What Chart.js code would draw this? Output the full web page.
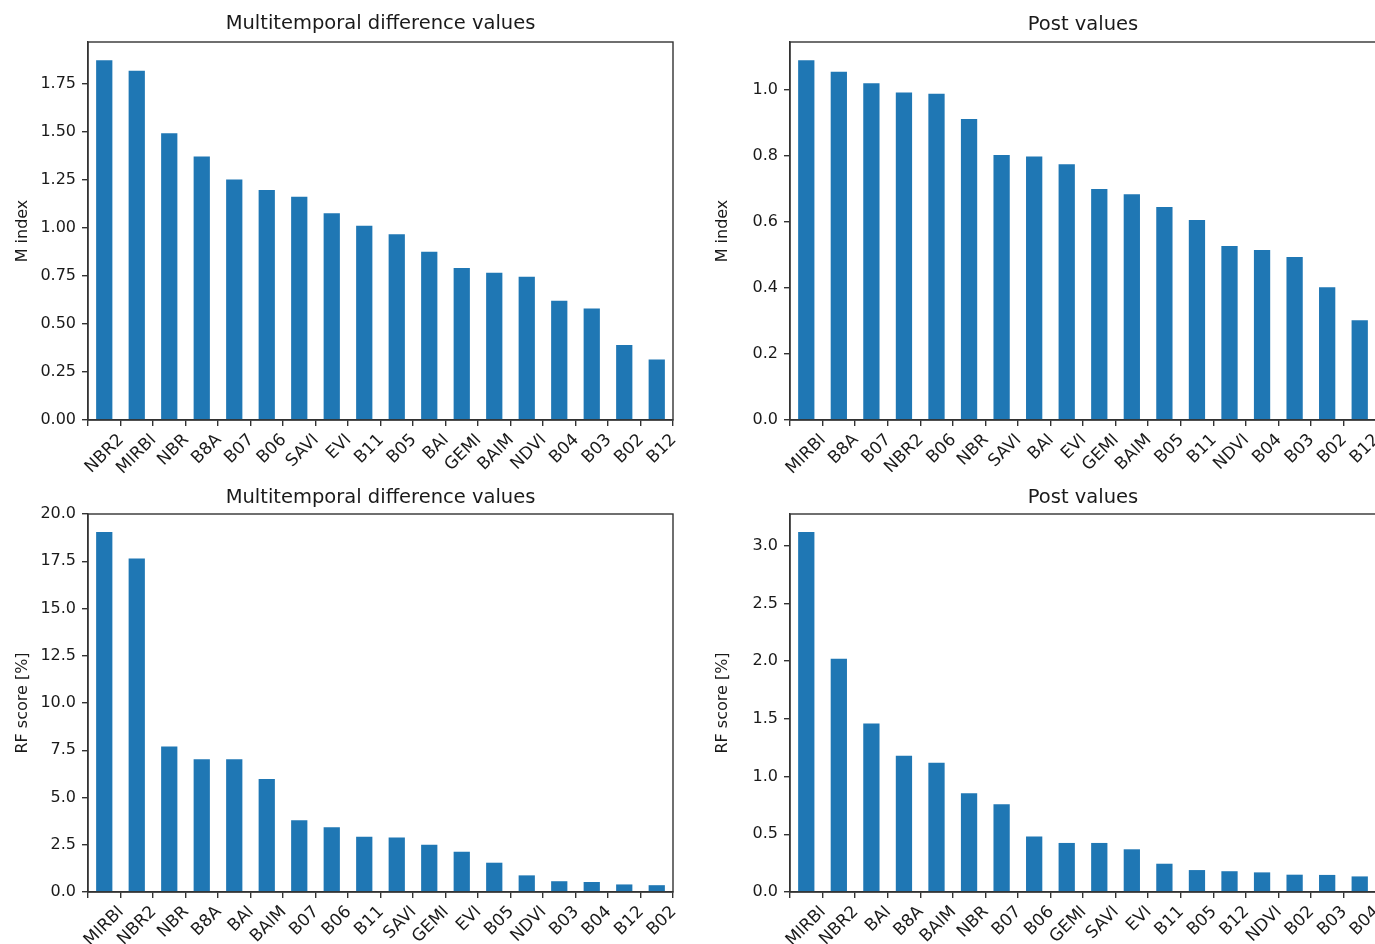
<!DOCTYPE html>
<html>
<head>
<meta charset="utf-8">
<script src="https://cdn.jsdelivr.net/npm/chart.js@4"></script>
<style>
  html, body { margin: 0; padding: 0; background: #fff; overflow: hidden; width: 1375px; height: 944px; }
  .panel { position: absolute; }
</style>
</head>
<body>
<div class="panel" style="left:0;top:0;width:690px;height:476px"><canvas id="c1"></canvas></div>
<div class="panel" style="left:700px;top:0;width:690px;height:476px"><canvas id="c2"></canvas></div>
<div class="panel" style="left:0;top:476px;width:690px;height:468px"><canvas id="c3"></canvas></div>
<div class="panel" style="left:700px;top:476px;width:690px;height:468px"><canvas id="c4"></canvas></div>
<script>
// data
const mtdLabels = ['NBR2','MIRBI','NBR','B8A','B07','B06','SAVI','EVI','B11','B05','BAI','GEMI','BAIM','NDVI','B04','B03','B02','B12'];
const mtdMIndex = [1.87,1.815,1.49,1.37,1.25,1.195,1.16,1.075,1.01,0.965,0.875,0.79,0.765,0.745,0.62,0.58,0.39,0.315];

const postLabels = ['MIRBI','B8A','B07','NBR2','B06','NBR','SAVI','BAI','EVI','GEMI','BAIM','B05','B11','NDVI','B04','B03','B02','B12'];
const postMIndex = [1.09,1.055,1.02,0.992,0.988,0.912,0.803,0.798,0.775,0.70,0.684,0.645,0.606,0.527,0.515,0.494,0.402,0.302];

const mtdRfLabels = ['MIRBI','NBR2','NBR','B8A','BAI','BAIM','B07','B06','B11','SAVI','GEMI','EVI','B05','NDVI','B03','B04','B12','B02'];
const mtdRf = [19.05,17.65,7.7,7.03,7.03,5.98,3.8,3.42,2.92,2.88,2.5,2.13,1.55,0.88,0.57,0.53,0.4,0.36];

const postRfLabels = ['MIRBI','NBR2','BAI','B8A','BAIM','NBR','B07','B06','GEMI','SAVI','EVI','B11','B05','B12','NDVI','B02','B03','B04'];
const postRf = [3.12,2.02,1.46,1.18,1.12,0.855,0.76,0.48,0.425,0.425,0.37,0.245,0.19,0.18,0.17,0.15,0.148,0.135];

// y axis limits / tick steps / decimals
const yMax = [1.965, 1.145, 20.0, 3.275];
const yStep = [0.25, 0.2, 2.5, 0.5];
const yDec = [2, 1, 1, 1];

const FONT = 'DejaVu Sans';
const INK = '#1a1a1a';
const LINE = '#333';

// box around the plot area, like matplotlib spines
const frame = {
    id: 'frame',
    afterDraw(chart) {
        const a = chart.chartArea, c = chart.ctx;
        c.save();
        c.strokeStyle = LINE;
        c.lineWidth = 1.4;
        c.strokeRect(a.left, a.top, a.right - a.left, a.bottom - a.top);
        c.restore();
    }
};

function makeChart(id, idx, labels, values, title, yTitle, opt) {
    new Chart(document.getElementById(id), {
        type: 'bar',
        data: {
            labels: labels,
            datasets: [{
                data: values,
                backgroundColor: '#1f77b4',
                barPercentage: 0.5,
                categoryPercentage: 1.0
            }]
        },
        options: {
            responsive: true,
            maintainAspectRatio: false,
            animation: false,
            layout: { padding: { left: 0, right: opt.right, top: 0, bottom: 0 } },
            plugins: {
                legend: { display: false },
                tooltip: { enabled: false },
                title: {
                    display: true,
                    text: title,
                    fullSize: false,
                    color: INK,
                    font: { family: FONT, size: 19.5, weight: 'normal' },
                    padding: opt.titlePad
                }
            },
            scales: {
                x: {
                    grid: { display: true, drawOnChartArea: false, drawTicks: true, tickLength: 6, color: LINE, lineWidth: 1.4 },
                    border: { display: true, color: LINE, width: 1.4 },
                    ticks: {
                        color: INK,
                        font: { family: FONT, size: 17 },
                        minRotation: 45,
                        maxRotation: 45,
                        autoSkip: false,
                        padding: 4,
                        labelOffset: 17
                    },
                    afterFit(s) { s.height = opt.xh; s.paddingLeft = 0; s.paddingRight = 0; }
                },
                y: {
                    min: 0,
                    max: yMax[idx],
                    grid: { display: true, drawOnChartArea: false, drawTicks: true, tickLength: 6, color: LINE, lineWidth: 1.4 },
                    border: { display: true, color: LINE, width: 1.4 },
                    ticks: {
                        stepSize: yStep[idx],
                        includeBounds: false,
                        color: INK,
                        font: { family: FONT, size: 16 },
                        padding: 6,
                        callback: v => Number(v).toFixed(yDec[idx])
                    },
                    title: {
                        display: true,
                        text: yTitle,
                        color: INK,
                        font: { family: FONT, size: 16 },
                        padding: { top: 13, bottom: 4 }
                    },
                    afterFit(s) { s.width = opt.yw; }
                }
            }
        },
        plugins: [frame]
    });
}

makeChart('c1', 0, mtdLabels, mtdMIndex, 'Multitemporal difference values', 'M index',
    { right: 17, yw: 88, xh: 56, titlePad: { top: 12, bottom: 6.6 } });
makeChart('c2', 1, postLabels, postMIndex, 'Post values', 'M index',
    { right: 14, yw: 90, xh: 56, titlePad: { top: 13, bottom: 5.6 } });
makeChart('c3', 2, mtdRfLabels, mtdRf, 'Multitemporal difference values', 'RF score [%]',
    { right: 17, yw: 88, xh: 52, titlePad: { top: 10, bottom: 4.6 } });
makeChart('c4', 3, postRfLabels, postRf, 'Post values', 'RF score [%]',
    { right: 14, yw: 90, xh: 52, titlePad: { top: 10, bottom: 4.6 } });
</script>
</body>
</html>
